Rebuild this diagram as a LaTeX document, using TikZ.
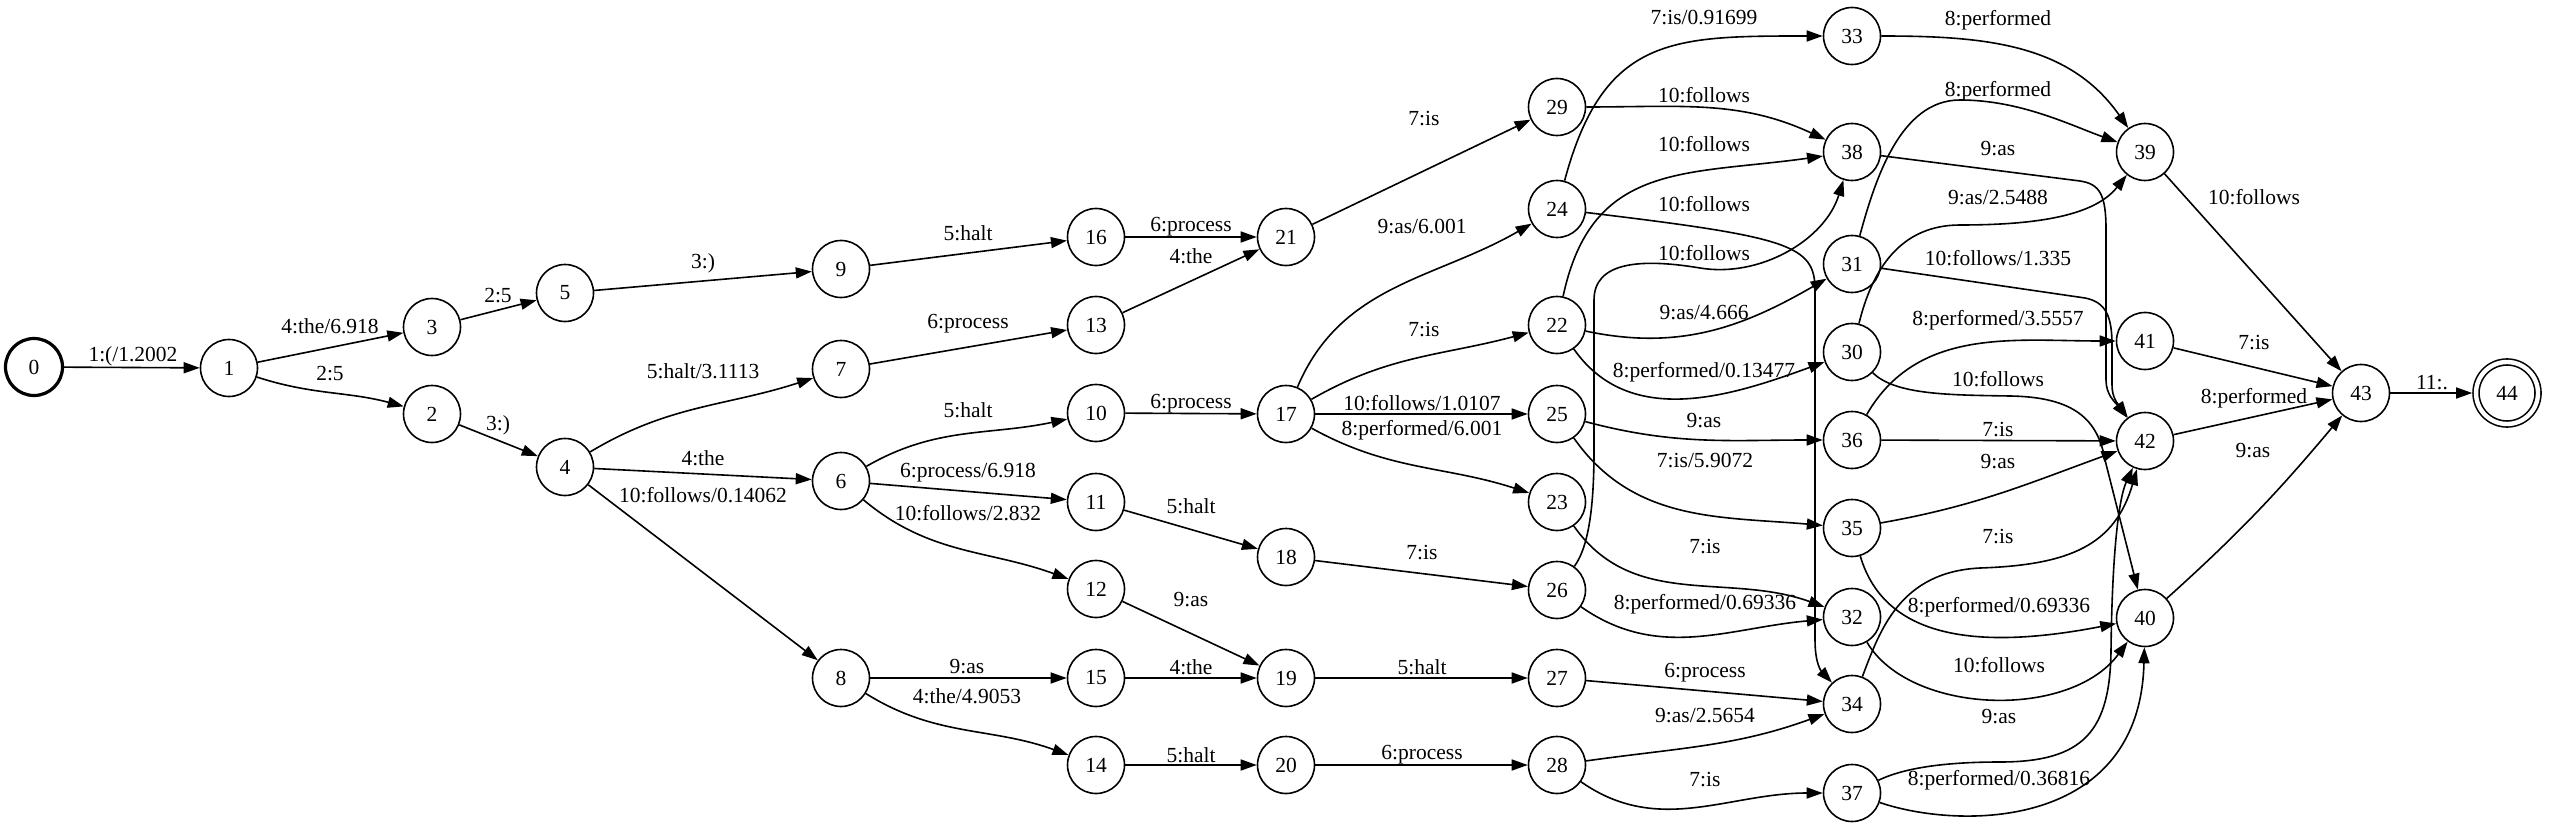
\documentclass[tikz,border=0pt]{standalone}
\usepackage{fontspec}
\setmainfont{Liberation Serif}
\usetikzlibrary{arrows.meta}
\begin{document}
\begin{tikzpicture}[x=1pt,y=1pt,
  font=\fontsize{21.5}{24}\selectfont,
  st/.style={circle,draw,line width=1.6pt,minimum size=57pt,inner sep=0pt},
  init/.style={st,line width=3.2pt},
  fin/.style={circle,draw,line width=1.6pt,double,double distance=4.4pt,minimum size=62pt,inner sep=0pt,outer sep=3.8pt},
  e/.style={line width=1.6pt,-{Triangle[length=16pt,width=11pt]}},
  lbl/.style={inner sep=0pt}]
\useasboundingbox (0,0) rectangle (2550,-829);
% states
\node[init] (n0) at (34,-367) {0};
\node[st] (n1) at (229,-368) {1};
\node[st] (n3) at (432,-327) {3};
\node[st] (n2) at (432,-414) {2};
\node[st] (n5) at (565,-293) {5};
\node[st] (n4) at (565,-467) {4};
\node[st] (n9) at (841,-269) {9};
\node[st] (n7) at (841,-369) {7};
\node[st] (n6) at (841,-481) {6};
\node[st] (n8) at (841,-678) {8};
\node[st] (n16) at (1096,-237) {16};
\node[st] (n13) at (1096,-325) {13};
\node[st] (n10) at (1096,-413) {10};
\node[st] (n11) at (1096,-502) {11};
\node[st] (n12) at (1096,-589) {12};
\node[st] (n15) at (1096,-678) {15};
\node[st] (n14) at (1096,-765) {14};
\node[st] (n21) at (1286,-237) {21};
\node[st] (n17) at (1286,-414) {17};
\node[st] (n18) at (1286,-557) {18};
\node[st] (n19) at (1286,-678) {19};
\node[st] (n20) at (1286,-765) {20};
\node[st] (n29) at (1557,-107) {29};
\node[st] (n24) at (1557,-209) {24};
\node[st] (n22) at (1557,-325) {22};
\node[st] (n25) at (1557,-414) {25};
\node[st] (n23) at (1557,-502) {23};
\node[st] (n26) at (1557,-590) {26};
\node[st] (n27) at (1557,-678) {27};
\node[st] (n28) at (1557,-765) {28};
\node[st] (n33) at (1852,-36) {33};
\node[st] (n38) at (1852,-152) {38};
\node[st] (n31) at (1852,-264) {31};
\node[st] (n30) at (1852,-352) {30};
\node[st] (n36) at (1852,-440) {36};
\node[st] (n35) at (1852,-528) {35};
\node[st] (n32) at (1852,-617) {32};
\node[st] (n34) at (1852,-704) {34};
\node[st] (n37) at (1852,-793) {37};
\node[st] (n39) at (2145,-152) {39};
\node[st] (n41) at (2145,-341) {41};
\node[st] (n42) at (2145,-441) {42};
\node[st] (n40) at (2145,-618) {40};
\node[st] (n43) at (2361,-393) {43};
\node[fin] (n44) at (2507,-393) {44};
% edges
\draw[e] (n0) -- (n1);
\draw[e] (n1) -- (n3);
\draw[e] (n1) to[out=-18,in=165] (n2);
\draw[e] (n3) -- (n5);
\draw[e] (n2) -- (n4);
\draw[e] (n5) -- (n9);
\draw[e] (n4) to[out=31,in=198] (n7);
\draw[e] (n4) -- (n6);
\draw[e] (n4) -- (n8);
\draw[e] (n9) -- (n16);
\draw[e] (n7) -- (n13);
\draw[e] (n6) to[out=30,in=192] (n10);
\draw[e] (n6) -- (n11);
\draw[e] (n6) to[out=-40,in=160] (n12);
\draw[e] (n8) -- (n15);
\draw[e] (n8) to[out=-32,in=160] (n14);
\draw[e] (n16) -- (n21);
\draw[e] (n13) -- (n21);
\draw[e] (n10) -- (n17);
\draw[e] (n11) -- (n18);
\draw[e] (n12) -- (n19);
\draw[e] (n15) -- (n19);
\draw[e] (n14) -- (n20);
\draw[e] (n21) -- (n29);
\draw[e] (n17) to[out=67,in=210] (n24);
\draw[e] (n17) to[out=30,in=195] (n22);
\draw[e] (n17) -- (n25);
\draw[e] (n17) to[out=-29,in=162] (n23);
\draw[e] (n18) -- (n26);
\draw[e] (n19) -- (n27);
\draw[e] (n20) -- (n28);
\draw[e] (n24) to[out=75,in=180,looseness=1.3] (n33);
\draw[e] (n29) to[out=0,in=155] (n38);
\draw[e] (n22) to[out=78,in=188,looseness=1.2] (n38);
\draw[e] (n24) .. controls (1790,-237) and (1815,-245) .. (1815,-290) -- (1815,-640) .. controls (1815,-665) and (1822,-672) .. (n34);
\draw[e] (n26) .. controls (1590,-545) and (1594,-500) .. (1594,-450) -- (1594,-300) .. controls (1594,-262) and (1640,-258) .. (1700,-268) .. controls (1760,-278) and (1825,-240) .. (n38);
\draw[e] (n22) to[out=-12,in=210] (n31);
\draw[e] (n22) to[out=-55,in=200] (n30);
\draw[e] (n25) to[out=-15,in=180] (n36);
\draw[e] (n25) to[out=-55,in=175] (n35);
\draw[e] (n23) to[out=-55,in=160] (n32);
\draw[e] (n26) to[out=-35,in=185] (n32);
\draw[e] (n27) -- (n34);
\draw[e] (n28) to[out=8,in=200] (n34);
\draw[e] (n28) to[out=-35,in=180] (n37);
\draw[e] (n33) to[out=0,in=125] (n39);
\draw[e] (n31) .. controls (1875,-180) and (1900,-100) .. (1960,-100) .. controls (2020,-100) and (2070,-125) .. (n39);
\draw[e] (n30) .. controls (1872,-270) and (1900,-225) .. (1960,-225) .. controls (2040,-225) and (2095,-215) .. (n39);
\draw[e] (n38) -- (2080,-181) .. controls (2100,-184) and (2106,-195) .. (2106,-230) -- (2106,-380) .. controls (2106,-395) and (2115,-402) .. (n42);
\draw[e] (n31) -- (2085,-298) .. controls (2105,-302) and (2112,-315) .. (2112,-345) -- (2112,-385) .. controls (2112,-398) and (2118,-404) .. (n42);
\draw[e] (n30) .. controls (1895,-395) and (1950,-395) .. (2010,-396) .. controls (2075,-397) and (2098,-420) .. (2105,-460) -- (n40);
\draw[e] (n36) to[out=60,in=180] (n41);
\draw[e] (n36) -- (n42);
\draw[e] (n35) to[out=10,in=200] (n42);
\draw[e] (n34) .. controls (1880,-630) and (1900,-572) .. (1980,-568) .. controls (2070,-565) and (2115,-545) .. (n42);
\draw[e] (n37) .. controls (1910,-765) and (1960,-762) .. (2000,-762) .. controls (2085,-762) and (2110,-730) .. (2111,-650) .. controls (2112,-560) and (2118,-500) .. (n42);
\draw[e] (n37) .. controls (1960,-830) and (2140,-830) .. (n40);
\draw[e] (n35) .. controls (1885,-640) and (1980,-650) .. (n40);
\draw[e] (n32) .. controls (1910,-715) and (2070,-720) .. (n40);
\draw[e] (n39) -- (n43);
\draw[e] (n41) -- (n43);
\draw[e] (n42) -- (n43);
\draw[e] (n40) to[out=42,in=230] (n43);
\draw[e] (n43) -- (n44);
% labels
\node[lbl] (l1) at (133,-356) {1:(/1.2002};
\node[lbl] (l2) at (330,-326) {4:the/6.918};
\node[lbl] (l3) at (330,-374) {2:5};
\node[lbl] (l4) at (498,-296) {2:5};
\node[lbl] (l5) at (498,-425) {3:)};
\node[lbl] (l6) at (703,-263) {3:)};
\node[lbl] (l7) at (703,-371) {5:halt/3.1113};
\node[lbl] (l8) at (703,-458) {4:the};
\node[lbl] (l9) at (703,-495) {10:follows/0.14062};
\node[lbl] (l10) at (968,-233) {5:halt};
\node[lbl] (l11) at (968,-324) {6:process};
\node[lbl] (l12) at (968,-410) {5:halt};
\node[lbl] (l13) at (968,-473) {6:process/6.918};
\node[lbl] (l14) at (968,-513) {10:follows/2.832};
\node[lbl] (l15) at (967,-667) {9:as};
\node[lbl] (l16) at (967,-696) {4:the/4.9053};
\node[lbl] (l17) at (1191,-227) {6:process};
\node[lbl] (l18) at (1191,-256) {4:the};
\node[lbl] (l19) at (1191,-404) {6:process};
\node[lbl] (l20) at (1191,-506) {5:halt};
\node[lbl] (l21) at (1191,-600) {9:as};
\node[lbl] (l22) at (1191,-667) {4:the};
\node[lbl] (l23) at (1191,-755) {5:halt};
\node[lbl] (l24) at (1424,-119) {7:is};
\node[lbl] (l25) at (1422,-227) {9:as/6.001};
\node[lbl] (l26) at (1424,-330) {7:is};
\node[lbl] (l27) at (1422,-403) {10:follows/1.0107};
\node[lbl] (l28) at (1422,-430) {8:performed/6.001};
\node[lbl] (l29) at (1422,-553) {7:is};
\node[lbl] (l30) at (1422,-667) {5:halt};
\node[lbl] (l31) at (1422,-755) {6:process};
\node[lbl] (l32) at (1704,-18) {7:is/0.91699};
\node[lbl] (l33) at (1704,-95) {10:follows};
\node[lbl] (l34) at (1704,-144) {10:follows};
\node[lbl] (l35) at (1704,-204) {10:follows};
\node[lbl] (l36) at (1704,-253) {10:follows};
\node[lbl] (l37) at (1704,-313) {9:as/4.666};
\node[lbl] (l38) at (1704,-372) {8:performed/0.13477};
\node[lbl] (l39) at (1704,-421) {9:as};
\node[lbl] (l40) at (1705,-460) {7:is/5.9072};
\node[lbl] (l41) at (1705,-547) {7:is};
\node[lbl] (l42) at (1705,-604) {8:performed/0.69336};
\node[lbl] (l43) at (1705,-673) {6:process};
\node[lbl] (l44) at (1705,-716) {9:as/2.5654};
\node[lbl] (l45) at (1705,-780) {7:is};
\node[lbl] (l46) at (1998,-20) {8:performed};
\node[lbl] (l47) at (1998,-91) {8:performed};
\node[lbl] (l48) at (1998,-149) {9:as};
\node[lbl] (l49) at (1998,-198) {9:as/2.5488};
\node[lbl] (l50) at (1998,-258) {10:follows/1.335};
\node[lbl] (l51) at (1998,-320) {8:performed/3.5557};
\node[lbl] (l52) at (1998,-379) {10:follows};
\node[lbl] (l53) at (1998,-430) {7:is};
\node[lbl] (l54) at (1998,-462) {9:as};
\node[lbl] (l55) at (1998,-537) {7:is};
\node[lbl] (l56) at (1999,-607) {8:performed/0.69336};
\node[lbl] (l57) at (1999,-665) {10:follows};
\node[lbl] (l58) at (1999,-717) {9:as};
\node[lbl] (l59) at (1999,-780) {8:performed/0.36816};
\node[lbl] (l60) at (2254,-197) {10:follows};
\node[lbl] (l61) at (2254,-343) {7:is};
\node[lbl] (l62) at (2254,-398) {8:performed};
\node[lbl] (l63) at (2253,-451) {9:as};
\node[lbl] (l64) at (2432,-383) {11:.};
\end{tikzpicture}
\end{document}
